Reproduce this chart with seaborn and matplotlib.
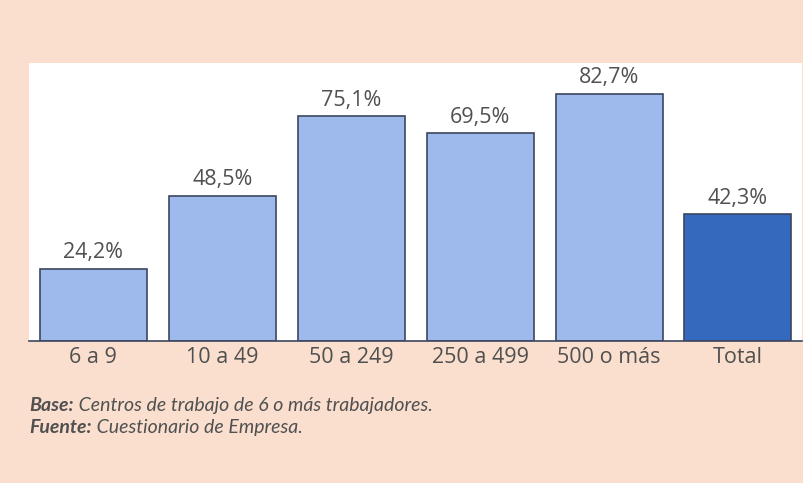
import matplotlib
matplotlib.use("Agg")
import matplotlib.pyplot as plt
import seaborn as sns
import pandas as pd

# Datos
categorias = ["6 a 9", "10 a 49", "50 a 249", "250 a 499", "500 o más", "Total"]
valores = [24.2, 48.5, 75.1, 69.5, 82.7, 42.3]
grupo = ["tam", "tam", "tam", "tam", "tam", "total"]
etiquetas = [f"{v:.1f}%".replace(".", ",") for v in valores]

df = pd.DataFrame({"categoria": categorias, "valor": valores, "grupo": grupo})

sns.set_style("white")
plt.rcParams["font.family"] = ["Open Sans", "DejaVu Sans"]

fondo = "#fadfcf"
gris = "#505050"
fig = plt.figure(figsize=(8.04, 4.83), dpi=100, facecolor=fondo)
ax = fig.add_axes([0.036, 0.294, 0.962, 0.576])
ax.set_facecolor("white")

sns.barplot(data=df, x="categoria", y="valor", hue="grupo",
            palette={"tam": "#9eb9ec", "total": "#3469bd"}, saturation=1,
            edgecolor="#3c4660", linewidth=1.2, width=0.83,
            dodge=False, legend=False, ax=ax)

for cont in ax.containers:
    labs = [etiquetas[int(round(b.get_x() + b.get_width() / 2))] for b in cont]
    ax.bar_label(cont, labels=labs, padding=4, fontsize=15.5, color=gris)

ax.set_xlim(-0.5, 5.5)
ax.set_ylim(0, 93)
ax.set_xlabel("")
ax.set_ylabel("")
ax.set_yticks([])
ax.set_xticks(range(len(categorias)))
ax.set_xticklabels(categorias, fontsize=15.5, color=gris)
ax.tick_params(axis="x", length=0, pad=4)
# pequeñas marcas entre categorías
ax.set_xticks([i - 0.5 for i in range(len(categorias) + 1)], minor=True)
ax.tick_params(axis="x", which="minor", length=4, width=1, color="#3c4660", direction="out")

for s in ["top", "right", "left"]:
    ax.spines[s].set_visible(False)
ax.spines["bottom"].set_color("#3c4660")
ax.spines["bottom"].set_linewidth(1.2)

# Nota al pie
notas = [("Base:", " Centros de trabajo de 6 o más trabajadores.", 0.150),
         ("Fuente:", " Cuestionario de Empresa.", 0.104)]
fig.canvas.draw()
r = fig.canvas.get_renderer()
for neg, resto, y in notas:
    t = fig.text(0.037, y, neg, fontsize=14, style="italic", weight="bold",
                 color=gris, family=["Lato", "DejaVu Sans"])
    bb = t.get_window_extent(renderer=r)
    x2 = bb.x1 / fig.bbox.width
    fig.text(x2, y, resto, fontsize=14, style="italic", color=gris,
             family=["Lato", "DejaVu Sans"])

fig.savefig("out.png", dpi=100, facecolor=fondo)
